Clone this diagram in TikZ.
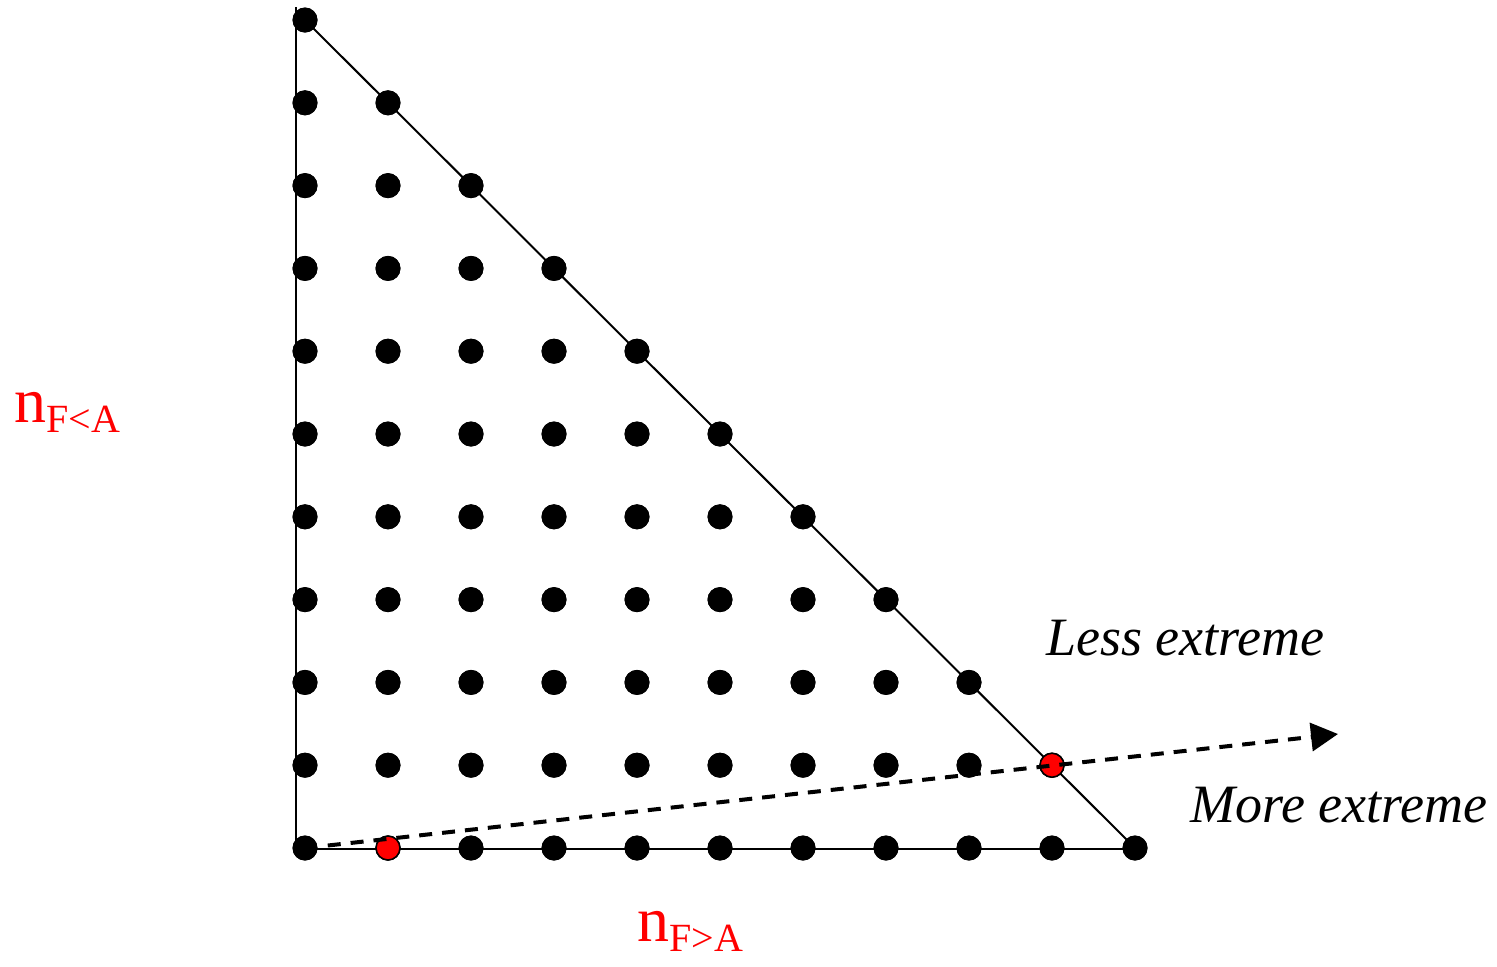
\documentclass[tikz,border=0pt]{standalone}
\usepackage{fontspec}
\setmainfont{Liberation Serif}
\usetikzlibrary{arrows.meta}
\tikzset{
  dot/.style={circle,fill=black,inner sep=0pt,minimum size=12.5pt},
  reddot/.style={circle,fill=red,draw=black,line width=0.8pt,inner sep=0pt,minimum size=12pt},
  edge/.style={line width=1pt,black},
  arr/.style={line width=2pt,dash pattern=on 6.5pt off 5pt,-{Triangle[length=13.5pt,width=14pt]}},
  lab/.style={anchor=base west,inner sep=0pt,text=red},
  txt/.style={anchor=base west,inner sep=0pt,font=\fontsize{27}{27}\selectfont\itshape}
}
\begin{document}
\begin{tikzpicture}[x=0.5pt,y=-0.5pt]
\useasboundingbox (0,0) rectangle (1497,966);
\coordinate (vt) at (296,7);
\coordinate (vb) at (296,849);
\coordinate (be) at (1135,849);
\coordinate (tip) at (1338,734);
% dots
\foreach \r in {0,...,10}{
  \foreach \c in {0,...,\r}{
    \node[dot] (d-\c-\r) at ({305+83*\c},{20+82.8*\r}) {};
  }
}
\draw[edge] (vt) -- (vb) -- (be);
\draw[edge] (d-0-0.center) -- (d-10-10.center);
\foreach \r in {0,...,10}{
  \foreach \c in {0,...,\r}{
    \node[dot] at (d-\c-\r) {};
  }
}
\node[reddot] (r1) at (d-1-10) {};
\node[reddot] (r2) at (d-9-9) {};
\draw[arr,shorten <=5pt] (d-0-10) -- (tip);
\node[lab] (ly) at (14,422) {\fontsize{32}{32}\selectfont n\raisebox{-5pt}{\fontsize{20}{20}\selectfont F<A}};
\node[lab] (lx) at (637,941) {\fontsize{32}{32}\selectfont n\raisebox{-5pt}{\fontsize{20}{20}\selectfont F>A}};
\node[txt] (le) at (1046,655) {Less extreme};
\node[txt] (me) at (1190,822) {More extreme};
\end{tikzpicture}
\end{document}
